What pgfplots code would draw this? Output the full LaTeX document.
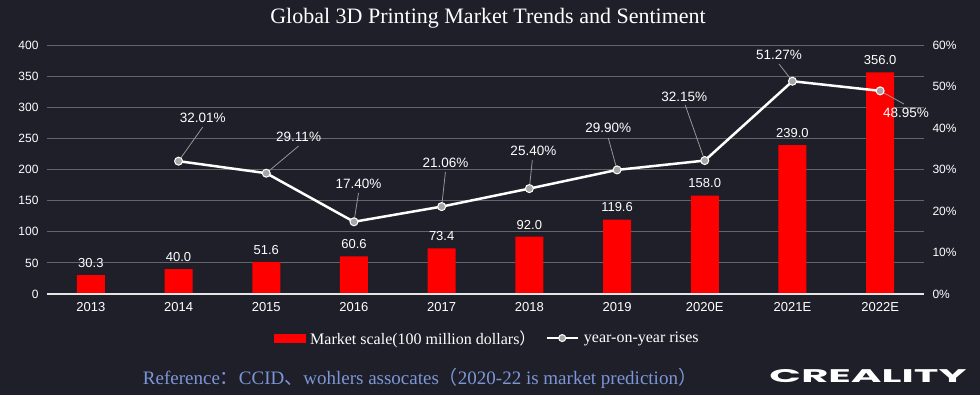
\documentclass[border=0pt]{standalone}
\usepackage{fontspec}
\setmainfont{Liberation Serif}
\newfontfamily\arial{Liberation Sans}
\newfontfamily\cjk{Noto Sans CJK SC}
\newfontfamily\logofont{Poppins}
\usepackage{graphicx}
\usepackage{pgfplots}
\usepackage{pgfplotstable}
\pgfplotsset{compat=1.18}
\definecolor{bg}{RGB}{30,31,41}
\definecolor{gridc}{RGB}{100,100,108}
\definecolor{leader}{RGB}{150,150,150}
\definecolor{markc}{RGB}{165,165,165}
\definecolor{refblue}{RGB}{125,150,215}

\pgfplotstableread{
x val
0 30.3
1 40.0
2 51.6
3 60.6
4 73.4
5 92.0
6 119.6
7 158.0
8 239.0
9 356.0
}\bars

\pgfplotstableread{
x pct
1 32.01
2 29.11
3 17.40
4 21.06
5 25.40
6 29.90
7 32.15
8 51.27
9 48.95
}\rises

\begin{document}
\begin{tikzpicture}[x=1pt,y=1pt]
\fill[bg] (0,0) rectangle (980,395);
\node[font=\fontsize{22}{25}\selectfont, text=white] at (488,377) {Global 3D Printing Market Trends and Sentiment};

\begin{axis}[
  at={(47pt,101pt)}, anchor=south west, scale only axis,
  width=877pt, height=249pt,
  xmin=-0.5, xmax=9.5, ymin=0, ymax=400,
  xtick={0,...,9},
  xticklabels={2013,2014,2015,2016,2017,2018,2019,2020E,2021E,2022E},
  ytick={0,50,...,400},
  ymajorgrids, grid style={gridc, line width=0.8pt},
  axis line style={draw=none}, major tick length=0pt,
  /pgf/number format/assume math mode=true,
  yticklabel style={font=\arial\fontsize{12}{14}\selectfont, text=white, xshift=-5pt},
  xticklabel style={font=\arial\fontsize{13}{15}\selectfont, text=white, yshift=-5pt},
  ybar, bar width=28pt,
  nodes near coords={\pgfmathprintnumber[fixed,fixed zerofill,precision=1,assume math mode=true]{\pgfplotspointmeta}},
  nodes near coords style={font=\arial\fontsize{13}{15}\selectfont, text=white, yshift=4pt},
  clip=false
]
\addplot[fill=red, draw=none] table[x=x,y=val]{\bars};
\draw[white!80!gray, line width=1.5pt] (axis cs:-0.5,0) -- (axis cs:9.5,0);
\end{axis}

\begin{axis}[
  at={(47pt,101pt)}, anchor=south west, scale only axis,
  width=877pt, height=249pt,
  xmin=-0.5, xmax=9.5, ymin=0, ymax=60,
  axis x line=none, axis y line*=right,
  axis line style={draw=none}, major tick length=0pt,
  ytick={0,10,...,60},
  /pgf/number format/assume math mode=true,
  yticklabel={\pgfmathprintnumber{\tick}\%},
  yticklabel style={font=\arial\fontsize{12}{14}\selectfont, text=white, anchor=west, xshift=5pt},
  clip=false,
  legend style={at={(0.502,-0.177)}, anchor=center, draw=none, fill=none,
    legend columns=2, text=white, font=\fontsize{16}{18}\selectfont,
    /tikz/every even column/.append style={column sep=8pt}},
  legend cell align=left
]
\addlegendimage{legend image code/.code={\fill[red] (0pt,-4pt) rectangle (31pt,4pt);}}
\addlegendentry{\hspace{3pt}Market scale(100 million dollars{\cjk ）}}
\addlegendimage{legend image code/.code={\draw[white,line width=2.5pt] (0pt,0pt) -- (31pt,0pt); \draw[white, fill=markc, line width=1pt] (15.5pt,0pt) circle (3.5pt);}}
\addlegendentry{\hspace{3pt}year-on-year rises}

\draw[leader, line width=0.8pt] (axis cs:1,32.01) -- (axis cs:1.276,40.24);
\draw[leader, line width=0.8pt] (axis cs:2,29.11) -- (axis cs:2.369,35.66);
\draw[leader, line width=0.8pt] (axis cs:3,17.40) -- (axis cs:3.052,24.34);
\draw[leader, line width=0.8pt] (axis cs:4,21.06) -- (axis cs:4.043,29.40);
\draw[leader, line width=0.8pt] (axis cs:5,25.40) -- (axis cs:5.034,32.29);
\draw[leader, line width=0.8pt] (axis cs:6,29.90) -- (axis cs:5.900,37.59);
\draw[leader, line width=0.8pt] (axis cs:7,32.15) -- (axis cs:6.777,45.54);
\draw[leader, line width=0.8pt] (axis cs:8,51.27) -- (axis cs:7.847,55.42);
\draw[leader, line width=0.8pt] (axis cs:9,48.95) -- (axis cs:9.271,45.78);

\addplot[forget plot, white, line width=2.5pt, mark=*, mark size=4pt,
  mark options={fill=markc, draw=white, line width=1pt}] table[x=x,y=pct]{\rises};

\begin{scope}[every node/.style={font=\arial\fontsize{13.5}{16}\selectfont, text=white}]
\node at (axis cs:1.276,42.41) {32.01\%};
\node at (axis cs:2.369,37.83) {29.11\%};
\node at (axis cs:3.052,26.51) {17.40\%};
\node at (axis cs:4.043,31.57) {21.06\%};
\node at (axis cs:5.046,34.46) {25.40\%};
\node at (axis cs:5.900,40.00) {29.90\%};
\node at (axis cs:6.765,47.47) {32.15\%};
\node at (axis cs:7.847,57.59) {51.27\%};
\node at (axis cs:9.294,43.61) {48.95\%};
\end{scope}
\end{axis}

\node[text=refblue, font=\fontsize{19}{21}\selectfont] at (420,17) {Reference{\cjk ：}CCID{\cjk 、}wohlers assocates{\cjk （}2020-22 is market prediction{\cjk ）}};
\node at (868,18.5) {\resizebox{197pt}{13pt}{\color{white}\logofont\bfseries CREALITY}};

\pgfresetboundingbox
\path[use as bounding box] (0,0) rectangle (980,395);
\end{tikzpicture}
\end{document}
